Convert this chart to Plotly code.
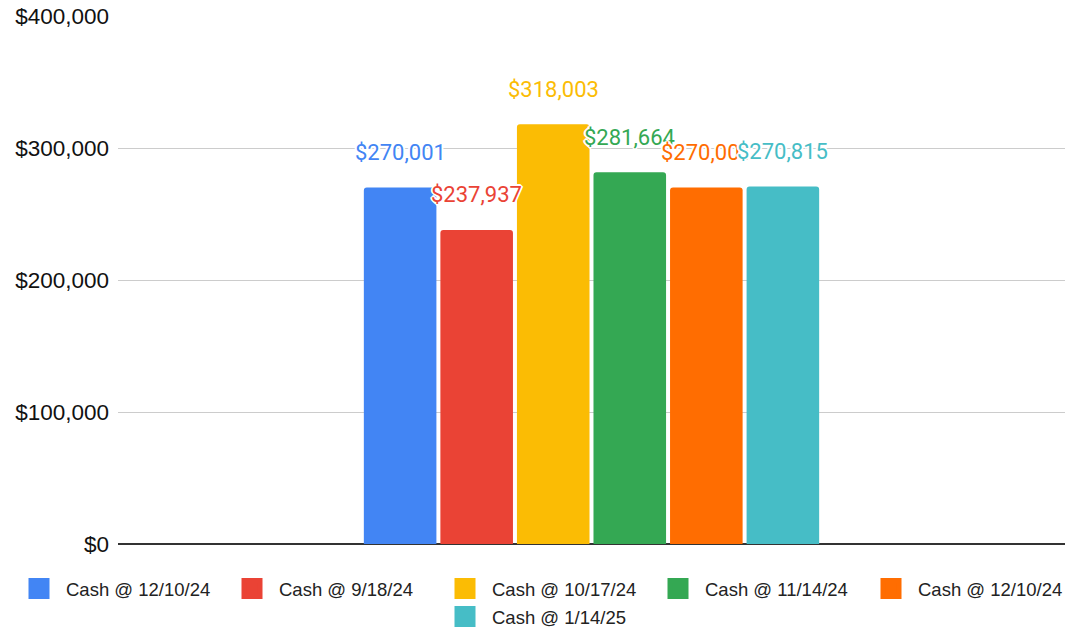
import plotly.graph_objects as go

category = [""]
series_names = ["Cash @ 12/10/24", "Cash @ 9/18/24", "Cash @ 10/17/24",
                "Cash @ 11/14/24", "Cash @ 12/10/24", "Cash @ 1/14/25"]
series_values = [270001, 237937, 318003, 281664, 270001, 270815]
colors = ["#4285F4", "#EA4335", "#FBBC04", "#34A853", "#FF6D01", "#46BDC6"]

bargap = 0.515
bargroupgap = 0.052

W, H = 1068, 629
ML, MR, MT, MB = 118, 3, 16, 85
plot_w = W - ML - MR
plot_h = H - MT - MB


def px_x(sx):
    return (sx - ML) / plot_w


def px_y(sy):
    return (MT + plot_h - sy) / plot_h


fig = go.Figure()
for name, val, col in zip(series_names, series_values, colors):
    fig.add_trace(go.Bar(
        x=category, y=[val], name=name, showlegend=False,
        marker=dict(color=col, cornerradius=3, line=dict(width=0)),
        hoverinfo="y",
    ))

# legend entries (5 in first row, last one centred on second row)
for i, (name, col) in enumerate(zip(series_names, colors)):
    fig.add_trace(go.Scatter(
        x=[None], y=[None], name=name, mode="markers",
        marker=dict(symbol="square", size=16, color=col, line=dict(color=col, width=5)),
        legend="legend" if i < 5 else "legend2",
    ))

n = len(series_values)
slot = (1 - bargap) / n
shadow = ("1px 1px 0 #fff, -1px -1px 0 #fff, 1px -1px 0 #fff, -1px 1px 0 #fff, "
          "0 2px 0 #fff, 0 -2px 0 #fff, 2px 0 0 #fff, -2px 0 0 #fff")
for i, (val, col) in enumerate(zip(series_values, colors)):
    xc = -(1 - bargap) / 2 + slot * (i + 0.5)
    fig.add_annotation(
        x=xc, y=val, xref="x", yref="y", text=f"${val:,}",
        showarrow=False, yanchor="middle", yshift=35,
        font=dict(family="Roboto", size=22, color=col, shadow=shadow),
    )

legend_font = dict(family="Liberation Sans", size=18.5, color="#222")
fig.update_layout(
    width=W, height=H,
    margin=dict(l=ML, r=MR, t=MT, b=MB, autoexpand=False),
    paper_bgcolor="white", plot_bgcolor="white",
    barmode="group", bargap=bargap, bargroupgap=bargroupgap,
    showlegend=True,
    legend=dict(orientation="h", x=px_x(12), xanchor="left",
                y=px_y(589), yanchor="middle",
                font=legend_font, entrywidth=154, itemwidth=44,
                itemsizing="trace", traceorder="normal", bgcolor="rgba(0,0,0,0)"),
    legend2=dict(orientation="h", x=px_x(438), xanchor="left",
                 y=px_y(617), yanchor="middle",
                 font=legend_font, entrywidth=154, itemwidth=44,
                 itemsizing="trace", bgcolor="rgba(0,0,0,0)"),
    xaxis=dict(showticklabels=False, showgrid=False, showline=False, zeroline=False, ticks=""),
    yaxis=dict(range=[0, 400000], dtick=100000, tickprefix="$", tickformat=",",
               showgrid=True, gridcolor="#cccccc", gridwidth=1,
               zeroline=True, zerolinecolor="#333333", zerolinewidth=1.5,
               tickfont=dict(family="Liberation Sans", size=22.5, color="#111"),
               ticks="", ticklabelstandoff=8, automargin=False,
               ticklabeloverflow="allow"),
    font=dict(family="Liberation Sans"),
)

fig.write_html("out.html", config={"displayModeBar": False},
               post_script="document.body.style.margin='0';")
